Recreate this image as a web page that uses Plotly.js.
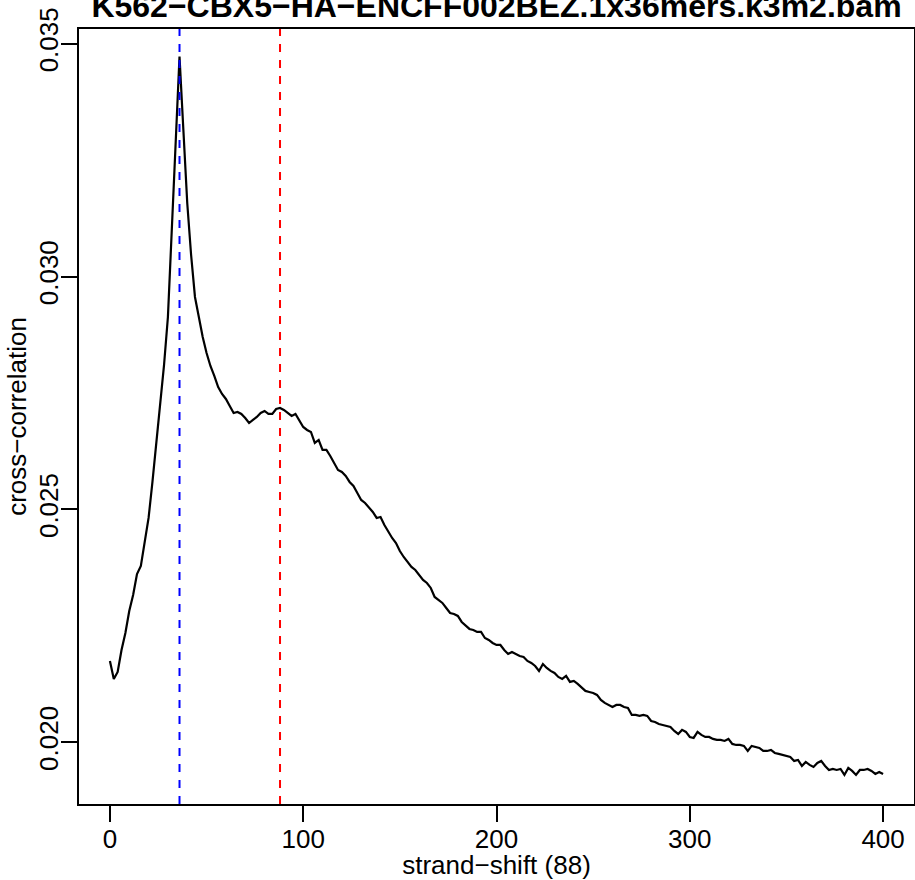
<!DOCTYPE html>
<html>
<head>
<meta charset="utf-8">
<script src="https://cdn.plot.ly/plotly-3.0.1.min.js"></script>
<style>html,body{margin:0;padding:0;background:#fff;}#chart{width:915px;height:880px;}</style>
</head>
<body>
<div id="chart"></div>
<script>
const chartTitle = "K562\u2212CBX5\u2212HA\u2212ENCFF002BEZ.1x36mers.k3m2.bam";
const xTitle = "strand\u2212shift (88)";
const yTitle = "cross\u2212correlation";

const strandShift = [
  0,2,4,6,8,10,12,14,16,18,
  20,22,24,26,28,30,32,34,36,38,
  40,42,44,46,48,50,52,54,56,58,
  60,62,64,66,68,70,72,74,76,78,
  80,82,84,86,88,90,92,94,96,98,
  100,102,104,106,108,110,112,114,116,118,
  120,122,124,126,128,130,132,134,136,138,
  140,142,144,146,148,150,152,154,156,158,
  160,162,164,166,168,170,172,174,176,178,
  180,182,184,186,188,190,192,194,196,198,
  200,202,204,206,208,210,212,214,216,218,
  220,222,224,226,228,230,232,234,236,238,
  240,242,244,246,248,250,252,254,256,258,
  260,262,264,266,268,270,272,274,276,278,
  280,282,284,286,288,290,292,294,296,298,
  300,302,304,306,308,310,312,314,316,318,
  320,322,324,326,328,330,332,334,336,338,
  340,342,344,346,348,350,352,354,356,358,
  360,362,364,366,368,370,372,374,376,378,
  380,382,384,386,388,390,392,394,396,398,
  400
];

const crossCorrelation = [
  0.021747,0.021360,0.021510,0.021983,0.022348,0.022820,0.023164,0.023614,0.023786,0.024302,
  0.024817,0.025590,0.026427,0.027114,0.028102,0.029132,0.030914,0.032825,0.034725,0.033147,
  0.031580,0.030463,0.029562,0.029132,0.028703,0.028359,0.028080,0.027866,0.027629,0.027479,
  0.027372,0.027221,0.027071,0.027093,0.027050,0.026964,0.026856,0.026921,0.026985,0.027071,
  0.027114,0.027050,0.027050,0.027157,0.027178,0.027136,0.027071,0.027007,0.027050,0.026921,
  0.026771,0.026706,0.026663,0.026427,0.026491,0.026277,0.026277,0.026148,0.025998,0.025847,
  0.025804,0.025718,0.025590,0.025504,0.025354,0.025203,0.025139,0.025053,0.024946,0.024817,
  0.024838,0.024667,0.024516,0.024387,0.024280,0.024108,0.023979,0.023872,0.023765,0.023700,
  0.023593,0.023486,0.023421,0.023314,0.023121,0.023056,0.022992,0.022884,0.022777,0.022756,
  0.022713,0.022584,0.022498,0.022434,0.022412,0.022369,0.022369,0.022240,0.022197,0.022133,
  0.022090,0.022090,0.021983,0.021897,0.021940,0.021897,0.021854,0.021833,0.021747,0.021704,
  0.021639,0.021532,0.021682,0.021596,0.021532,0.021489,0.021403,0.021360,0.021424,0.021296,
  0.021317,0.021253,0.021167,0.021103,0.021081,0.021060,0.021017,0.020909,0.020845,0.020802,
  0.020759,0.020802,0.020802,0.020759,0.020737,0.020587,0.020587,0.020566,0.020587,0.020566,
  0.020458,0.020437,0.020394,0.020372,0.020351,0.020330,0.020244,0.020179,0.020266,0.020222,
  0.020115,0.020093,0.020222,0.020158,0.020115,0.020115,0.020072,0.020051,0.020051,0.020029,
  0.020072,0.019965,0.019943,0.019943,0.019922,0.019814,0.019922,0.019900,0.019879,0.019814,
  0.019814,0.019836,0.019771,0.019750,0.019728,0.019707,0.019686,0.019600,0.019621,0.019492,
  0.019578,0.019514,0.019471,0.019557,0.019600,0.019492,0.019406,0.019428,0.019406,0.019428,
  0.019299,0.019449,0.019385,0.019299,0.019406,0.019406,0.019428,0.019385,0.019320,0.019364,
  0.019320
];

const peakShift = 36;       // blue dashed line
const fragmentShift = 88;   // red dashed line

const xTickVals = [0, 100, 200, 300, 400];
const xTickText = ["0", "100", "200", "300", "400"];
const yTickVals = [0.020, 0.025, 0.030, 0.035];
const yTickText = ["0.020", "0.025", "0.030", "0.035"];

const FONT = "'Liberation Sans', Arial, Helvetica, sans-serif";

const trace = {
  x: strandShift,
  y: crossCorrelation,
  type: "scatter",
  mode: "lines",
  line: {color: "#000000", width: 2.2},
  hoverinfo: "x+y",
  showlegend: false
};

const layout = {
  width: 915,
  height: 880,
  margin: {l: 79, r: 1, t: 29, b: 76, pad: 0},
  paper_bgcolor: "#ffffff",
  plot_bgcolor: "#ffffff",
  font: {family: FONT, color: "#000000", size: 26},
  title: {
    text: chartTitle,
    font: {family: FONT, size: 32, color: "#000000", weight: "bold"},
    x: 0.5, xref: "paper", xanchor: "center",
    y: 1, yref: "paper", yanchor: "bottom",
    pad: {b: 12}
  },
  xaxis: {
    range: [-16, 416],
    tickmode: "array",
    tickvals: xTickVals,
    ticktext: xTickText,
    ticks: "outside",
    ticklen: 16,
    tickwidth: 1.5,
    tickcolor: "#000000",
    ticklabelstandoff: -5,
    tickfont: {family: FONT, size: 26, color: "#000000"},
    showline: true,
    linecolor: "#000000",
    linewidth: 1.5,
    mirror: true,
    showgrid: false,
    zeroline: false,
    automargin: false,
    title: {text: xTitle, font: {family: FONT, size: 26, color: "#000000"}, standoff: 6}
  },
  yaxis: {
    range: [0.018675, 0.035316],
    tickmode: "array",
    tickvals: yTickVals,
    ticktext: yTickText,
    tickangle: -90,
    ticklabelstandoff: -7,
    ticks: "outside",
    ticklen: 16,
    tickwidth: 1.5,
    tickcolor: "#000000",
    tickfont: {family: FONT, size: 26, color: "#000000"},
    showline: true,
    linecolor: "#000000",
    linewidth: 1.5,
    mirror: true,
    showgrid: false,
    zeroline: false,
    automargin: false,
    title: {text: yTitle, font: {family: FONT, size: 26, color: "#000000"}, standoff: 0}
  },
  shapes: [
    {type: "line", xref: "x", yref: "paper", x0: peakShift, x1: peakShift, y0: 0, y1: 1,
     line: {color: "#0000ff", width: 2, dash: "8px,8px"}},
    {type: "line", xref: "x", yref: "paper", x0: fragmentShift, x1: fragmentShift, y0: 0, y1: 1,
     line: {color: "#ff0000", width: 2, dash: "8px,8px"}}
  ]
};

Plotly.newPlot("chart", [trace], layout, {displayModeBar: false, staticPlot: false});
</script>
</body>
</html>
